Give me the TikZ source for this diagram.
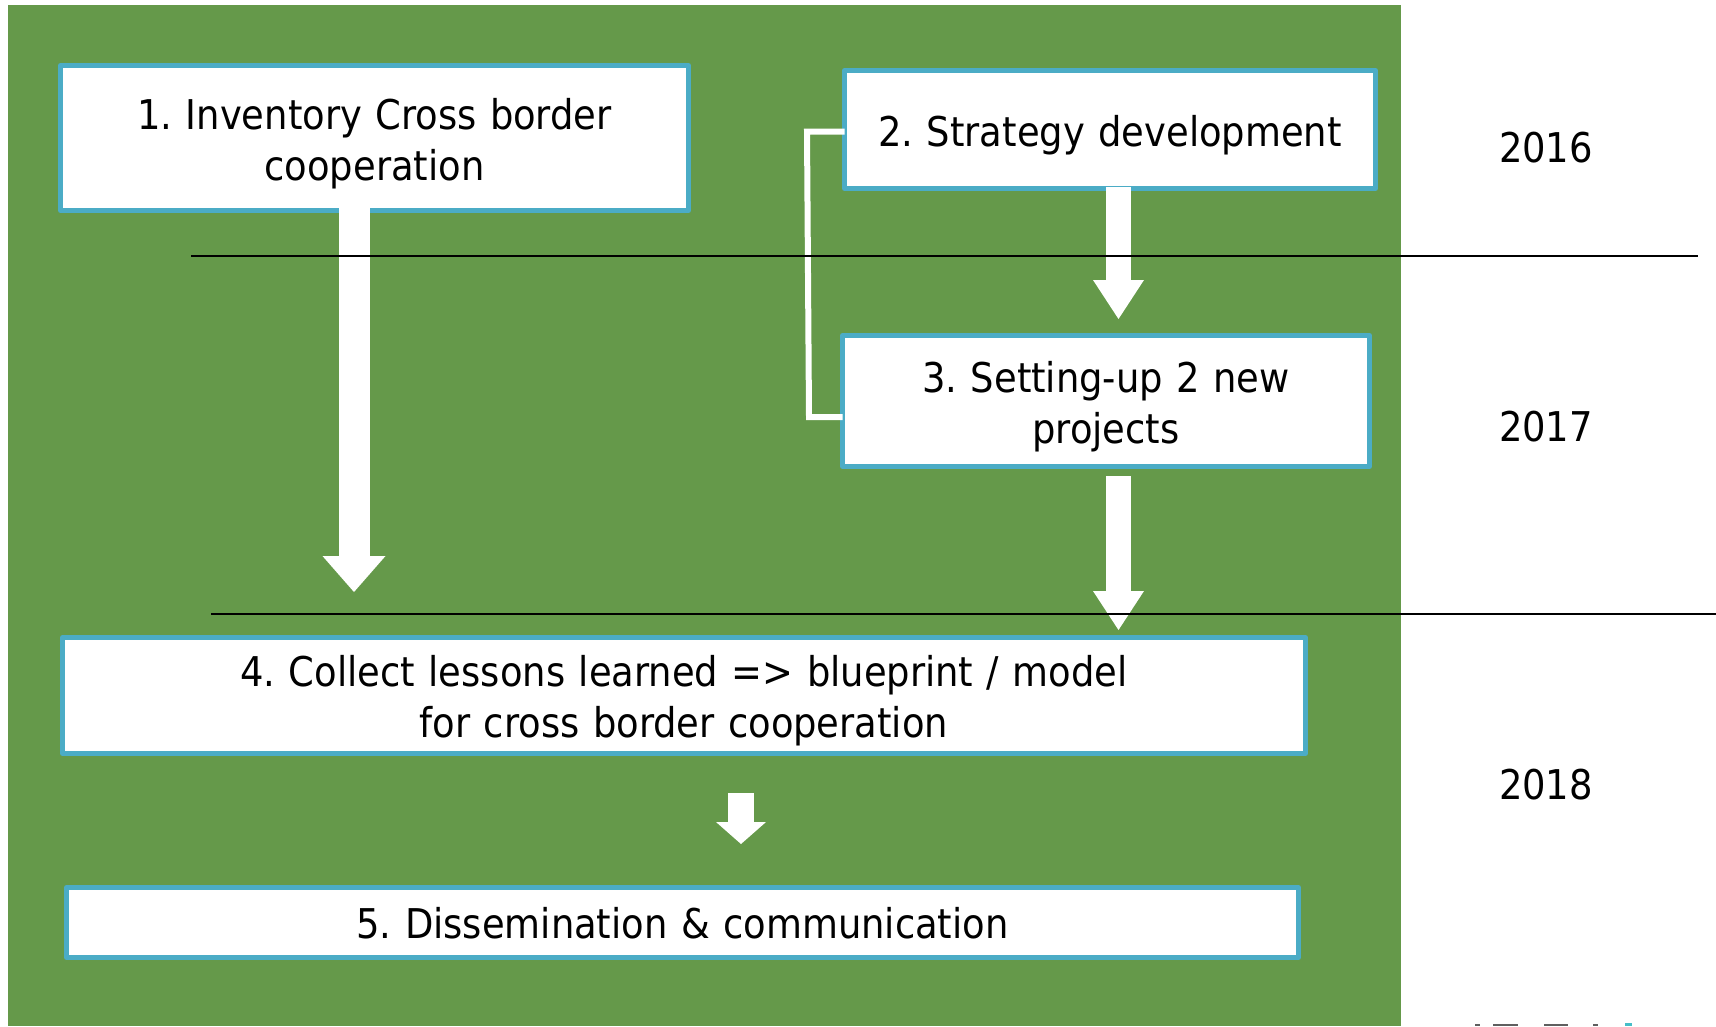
\documentclass[tikz,border=0pt]{standalone}
\usepackage{fontspec}
\setmainfont[WordSpace=1.15]{DejaVu Sans Condensed}
\usetikzlibrary{arrows.meta}
\definecolor{panelgreen}{RGB}{101,153,74}
\definecolor{boxblue}{RGB}{75,172,198}
\definecolor{logogrey}{RGB}{95,95,95}
\definecolor{logoteal}{RGB}{70,190,200}
\newcommand{\dropline}[1]{\rule{0pt}{#1}}
\tikzset{
  txt/.style={font=\fontsize{41}{51}\selectfont\frenchspacing, text=black, align=center, inner sep=0pt, outer sep=0pt},
  stepbox/.style={txt, draw=boxblue, fill=white, line width=5pt, line join=round, rectangle},
  blockarrow/.style={draw=white, line width=#1},
  divider/.style={draw=black, line width=2pt},
  bracket/.style={draw=white, line width=6pt, line join=miter},
}
\begin{document}
\begin{tikzpicture}[x=1pt,y=-1pt]
\useasboundingbox (0,0) rectangle (1716,1026);
\fill[white] (0,0) rectangle (1716,1026);
\fill[panelgreen] (8,5) rectangle (1401,1026);
% boxes
\node[stepbox, minimum width=628pt, minimum height=145pt] (b1) at (374.5,138) {\dropline{42pt}1. Inventory Cross border\\cooperation};
\node[stepbox, minimum width=531pt, minimum height=118pt] (b2) at (1110,129.5) {\dropline{42pt}2. Strategy development};
\node[stepbox, minimum width=527pt, minimum height=131pt] (b3) at (1106,401) {\dropline{42pt}3. Setting-up 2 new\\projects};
\node[stepbox, minimum width=1243pt, minimum height=116pt] (b4) at (684,695.5) {\dropline{42pt}4. Collect lessons learned =\textgreater{} blueprint / model\\for cross border cooperation};
\node[stepbox, minimum width=1232pt, minimum height=70pt] (b5) at (682.5,922.5) {\dropline{33pt}5. Dissemination \& communication};
% free ends
\coordinate (a1s) at (354,208);
\coordinate (a1e) at (354,592);
\coordinate (a2s) at (1118.5,187);
\coordinate (a2e) at (1118.5,319);
\coordinate (a3s) at (1118.5,476);
\coordinate (a3e) at (1118.5,630);
\coordinate (a4s) at (741,793);
\coordinate (a4e) at (741,844);
% block arrows
\draw[blockarrow=31pt, -{Triangle[length=36pt,width=63pt,fill=white,line width=0pt]}] (a1s) -- (a1e);
\draw[blockarrow=25pt, -{Triangle[length=39pt,width=51pt,fill=white,line width=0pt]}] (a2s) -- (a2e);
\draw[blockarrow=25pt, -{Triangle[length=39pt,width=51pt,fill=white,line width=0pt]}] (a3s) -- (a3e);
\draw[blockarrow=26pt, -{Triangle[length=22pt,width=50pt,fill=white,line width=0pt]}] (a4s) -- (a4e);
% bracket between 2 and 3
\coordinate (c1) at (807,131.5);
\coordinate (c2) at (809,417);
\draw[bracket] (b2.west |- c1) -- (c1) -- (c2) -- (b3.west |- c2);
% dividers
\coordinate (d1a) at (191,255.5);
\coordinate (d1b) at (1698,255.5);
\coordinate (d2a) at (211,614);
\coordinate (d2b) at (1716,614);
\draw[divider] (d1a) -- (d1b);
\draw[divider] (d2a) -- (d2b);
% years
\node[txt] (y16) at (1546,148) {2016};
\node[txt] (y17) at (1546,427) {2017};
\node[txt] (y18) at (1546,785) {2018};
% clipped logo remnants at the bottom edge
\fill[logogrey] (1475,1024) rectangle (1480,1026);
\fill[logogrey] (1493,1024) rectangle (1518,1026);
\fill[logogrey] (1544,1024) rectangle (1568,1026);
\fill[logogrey] (1593,1024) rectangle (1598,1026);
\fill[logoteal] (1625,1023) rectangle (1632,1026);
\end{tikzpicture}
\end{document}
